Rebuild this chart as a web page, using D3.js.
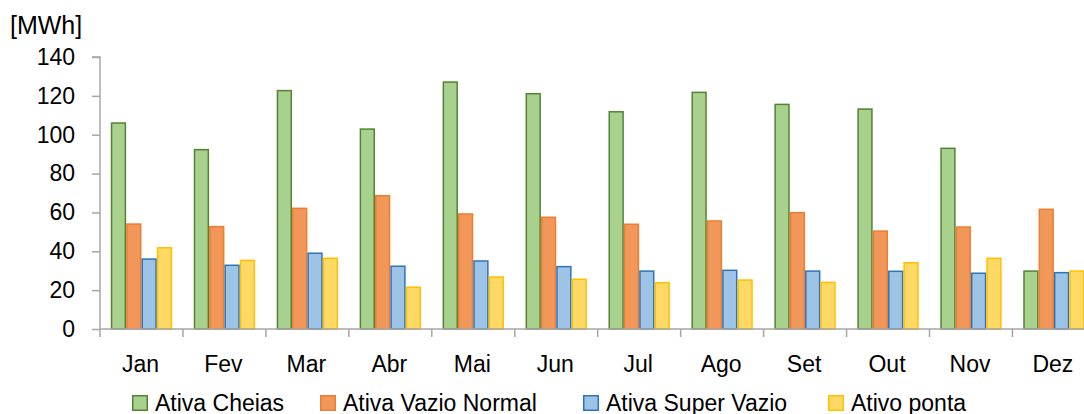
<!DOCTYPE html>
<html><head><meta charset="utf-8">
<script src="https://cdn.jsdelivr.net/npm/d3@7"></script>
<style>
html,body{margin:0;padding:0;background:#fff;overflow:hidden}
svg text{font-family:"Liberation Sans",Arial,sans-serif;fill:#000}
</style></head>
<body><svg id="c" width="1084" height="414"></svg>
<script>
const months = ["Jan","Fev","Mar","Abr","Mai","Jun","Jul","Ago","Set","Out","Nov","Dez"];
const seriesNames = ["Ativa Cheias","Ativa Vazio Normal","Ativa Super Vazio","Ativo ponta"];
const ativaCheias      = [106, 92.3, 122.7, 102.9, 127.1, 121.1, 111.8, 121.8, 115.6, 113.2, 93, 29.8];
const ativaVazioNormal = [54, 52.7, 62.1, 68.6, 59.2, 57.5, 53.9, 55.6, 59.9, 50.4, 52.5, 61.6];
const ativaSuperVazio  = [36, 32.8, 39, 32.3, 35, 32.1, 29.8, 30.2, 29.8, 29.7, 28.7, 29];
const ativoPonta       = [41.8, 35.3, 36.4, 21.5, 26.8, 25.6, 23.8, 25.2, 24, 34.1, 36.4, 29.8];
const yTicks = [0,20,40,60,80,100,120,140];
const unitLabel = "[MWh]";

const seriesValues = [ativaCheias, ativaVazioNormal, ativaSuperVazio, ativoPonta];
const fills   = ["#A9D18E","#F1975A","#9DC3E6","#FFD966"];
const strokes = ["#548235","#ED7D31","#2E75B6","#FFC000"];

const svg = d3.select("#c");
const plotLeft = 100, plotBottom = 329, plotTop = 57;
const bandW = 82.95;
const x0 = d3.scaleBand().domain(months).range([plotLeft, plotLeft + bandW*months.length]).padding(0);
const x1 = d3.scaleBand().domain(seriesNames).range([10.8, bandW-10.8]).padding(0);
const y = d3.scaleLinear().domain([0,140]).range([plotBottom, plotTop]);

// bars
seriesNames.forEach((s, si) => {
  svg.append("g").selectAll("rect").data(months).join("rect")
    .attr("x", m => x0(m) + x1(s) + 0.75)
    .attr("y", (m,i) => y(seriesValues[si][i]))
    .attr("width", x1.bandwidth() - 1.5)
    .attr("height", (m,i) => plotBottom - y(seriesValues[si][i]))
    .attr("fill", fills[si])
    .attr("stroke", strokes[si])
    .attr("stroke-width", 1.5);
});

// y axis
const yAxis = d3.axisLeft(y).tickValues(yTicks).tickSize(8).tickPadding(17);
const gy = svg.append("g").attr("transform", `translate(${plotLeft},0)`).call(yAxis);
gy.select(".domain").attr("stroke","#A6A6A6").attr("stroke-width",1.5).attr("d", `M-8,${plotTop}H0V${plotBottom}`);
gy.selectAll(".tick line").attr("stroke","#A6A6A6").attr("stroke-width",1.5);
gy.selectAll(".tick text").attr("font-size", 23).attr("font-family","Liberation Sans, Arial, sans-serif").attr("fill","#000");

// x axis
const boundaries = months.map(m => x0(m)).concat([x0(months[months.length-1]) + bandW]);
const gx = svg.append("g");
gx.append("line").attr("x1", plotLeft).attr("x2", boundaries[boundaries.length-1])
  .attr("y1", plotBottom).attr("y2", plotBottom).attr("stroke","#A6A6A6").attr("stroke-width",1.5);
gx.selectAll("line.t").data(boundaries).join("line").attr("class","t")
  .attr("x1", d=>d).attr("x2", d=>d).attr("y1", plotBottom).attr("y2", plotBottom+8)
  .attr("stroke","#A6A6A6").attr("stroke-width",1.5);
gx.selectAll("text").data(months).join("text")
  .attr("x", m => x0(m) + bandW/2 - 1)
  .attr("y", 372)
  .attr("text-anchor","middle")
  .attr("font-size", 23)
  .text(m => m);

// unit label
svg.append("text").attr("x", 10).attr("y", 34).attr("font-size", 25).text(unitLabel);

// legend
const legX = [132, 320, 583, 828];
const lg = svg.append("g").selectAll("g").data(seriesNames).join("g")
  .attr("transform", (d,i) => `translate(${legX[i]},395)`);
lg.append("rect").attr("x",0.75).attr("y",0.75).attr("width",14.5).attr("height",14.5)
  .attr("fill", (d,i)=>fills[i]).attr("stroke",(d,i)=>strokes[i]).attr("stroke-width",1.5);
lg.append("text").attr("x", 23).attr("y", 15.5).attr("font-size", 23).text(d => d);
</script></body></html>
